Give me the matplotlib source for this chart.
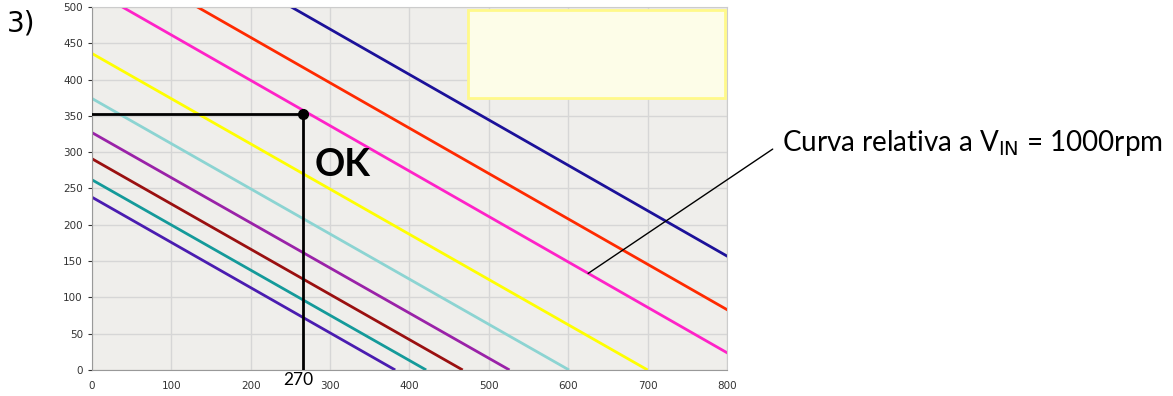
import matplotlib.pyplot as plt
from matplotlib.patches import Rectangle

# straight curves: value at x=0 and x where they reach 0
y_at_zero = [238, 262, 291, 327, 374, 436, 524, 583, 657]
x_at_zero = [382, 421, 467, 526, 601, 700, 838, 933, 1051]
colors = ["#4a1cb0", "#149a9a", "#9a1010", "#9a22a8", "#8cd4d2",
          "#ffff00", "#ff22c8", "#ff2a00", "#1c1199"]

x_ticks = [0, 100, 200, 300, 400, 500, 600, 700, 800]
y_ticks = [0, 50, 100, 150, 200, 250, 300, 350, 400, 450, 500]

op_x, op_y = 266, 352
op_label = "270"
ann_x, ann_y = 625, 133

fig = plt.figure(figsize=(11.73, 3.96), dpi=100)
ax = fig.add_axes([0.0784, 0.0657, 0.5414, 0.9166])
ax.set_facecolor("#efeeeb")

for y0, x0, c in zip(y_at_zero, x_at_zero, colors):
    ax.plot([0, x0], [y0, 0], color=c, lw=2, solid_capstyle="butt")

ax.set_xlim(0, 800)
ax.set_ylim(0, 500)
ax.set_xticks(x_ticks)
ax.set_yticks(y_ticks)
ax.grid(True, color="#d6d6d6", lw=1)
ax.set_axisbelow(True)
ax.tick_params(labelsize=7.5, colors="#333333", length=3, width=0.8)
ax.tick_params(axis="x", length=0, pad=8)
for s in ["left", "bottom"]:
    ax.spines[s].set_color("#999999")
for s in ["right", "top"]:
    ax.spines[s].set_color("#cccccc")

# empty legend box
ax.add_patch(Rectangle((474, 375), 324, 121, facecolor="#fdfde8",
                       edgecolor="#fff98a", lw=2, zorder=5))

# operating point
ax.plot([0, op_x], [op_y, op_y], color="black", lw=2, zorder=6)
ax.plot([op_x, op_x], [op_y, 0], color="black", lw=2, zorder=6)
ax.plot(op_x, op_y, "o", color="black", ms=7, zorder=7)
ax.text(281, 282, "OK", fontsize=27, fontweight="bold", family="Lato",
        ha="left", va="center", zorder=7)
ax.text(op_x - 6, -3, op_label, fontsize=12.5, ha="center", va="top",
        family="Lato")

fig.text(0.006, 0.94, "3)", fontsize=20, va="center", ha="left")

ax.annotate(r"Curva relativa a V$_{\mathrm{IN}}$ = 1000rpm",
            xy=(ann_x, ann_y), xycoords="data",
            xytext=(0.667, 0.64), textcoords="figure fraction",
            fontsize=20, family="Lato", va="center", ha="left",
            arrowprops=dict(arrowstyle="-", color="black", lw=1,
                            shrinkA=6, shrinkB=0, relpos=(0, 0.5)))

fig.savefig("out.png", dpi=100)
